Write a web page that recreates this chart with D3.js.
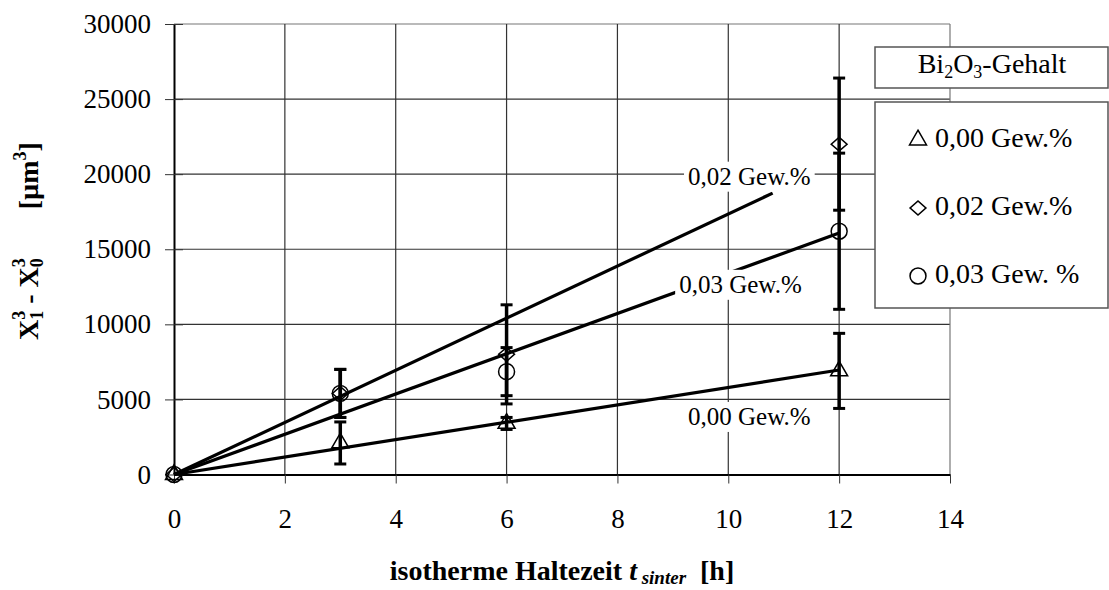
<!DOCTYPE html>
<html lang="de">
<head>
  <meta charset="UTF-8">
  <title>Kornwachstum</title>
  <script src="https://d3js.org/d3.v7.min.js"></script>
  <style>
    body {
      margin: 0;
      background: white;
    }
    svg {
      font-family: "Liberation Serif", "Times New Roman", serif;
    }
    text {
      white-space: pre;
    }
  </style>
</head>
<body>
  <div id="chart"></div>

  <script>
    // --- data ---
    const tHours = [0, 3, 6, 12];
    const seriesNames = ["0,00 Gew.%", "0,02 Gew.%", "0,03 Gew. %"];
    const seriesSymbols = ["triangle", "diamond", "circle"];
    const val000 = [0, 2100, 3400, 6900];
    const err000 = [0, 1400, 400, 2500];
    const val002 = [0, 5400, 8000, 22000];
    const err002 = [0, 1600, 3300, 4400];
    const val003 = [0, 5400, 6850, 16200];
    const err003 = [0, 1600, 1600, 5200];

    // straight fit lines through the origin (slope in µm³/h)
    const fitNames = ["0,00 Gew.%", "0,02 Gew.%", "0,03 Gew.%"];
    const fitSlopes = [580, 1735, 1340];
    const fitEnds = [12, 10.8, 12];
    // label anchor in data units (centre time, baseline value)
    const fitLabelT = [10.38, 10.38, 10.22];
    const fitLabelV = [3300, 19300, 12100];

    const xTicks = [0, 2, 4, 6, 8, 10, 12, 14];
    const yTicks = [0, 5000, 10000, 15000, 20000, 25000, 30000];

    const width = 1109, height = 590;
    const margin = {left: 174, right: 159, top: 24, bottom: 115.5};
    const serif = "Liberation Serif, Times New Roman, serif";

    const svg = d3.select("#chart").append("svg")
        .attr("width", width)
        .attr("height", height)
        .attr("font-family", serif);

    const x = d3.scaleLinear().domain([0, 14]).range([margin.left, width - margin.right]);
    const y = d3.scaleLinear().domain([0, 30000]).range([height - margin.bottom, margin.top]);

    // grid
    const grid = svg.append("g").attr("stroke-width", 1.2);
    grid.selectAll("line.h").data(yTicks.slice(1)).join("line")
        .attr("x1", x(0)).attr("x2", x(14))
        .attr("y1", d => y(d)).attr("y2", d => y(d))
        .attr("stroke", d => d === 30000 ? "#777" : "#333");
    grid.selectAll("line.v").data(xTicks.slice(1)).join("line")
        .attr("y1", y(0)).attr("y2", y(30000))
        .attr("x1", d => x(d)).attr("x2", d => x(d))
        .attr("stroke", d => d === 14 ? "#777" : "#333");

    // axes
    const xAxis = svg.append("g")
        .attr("transform", `translate(0,${y(0)})`)
        .call(d3.axisBottom(x).tickValues(xTicks).tickSize(9).tickPadding(25).tickSizeOuter(0));
    const yAxis = svg.append("g")
        .attr("transform", `translate(${x(0)},0)`)
        .call(d3.axisLeft(y).tickValues(yTicks).tickSize(9).tickPadding(14).tickSizeOuter(0)
          .tickFormat(d3.format("d")));
    [xAxis, yAxis].forEach(g => {
      g.select(".domain").attr("stroke", "#000").attr("stroke-width", 2);
      g.selectAll(".tick line").attr("stroke", "#333");
      g.selectAll(".tick text")
        .attr("font-family", serif)
        .attr("font-size", 27).attr("fill", "#000");
    });
    yAxis.selectAll(".tick line").clone().attr("x2", 9);

    // fit lines
    svg.append("g").selectAll("line").data(fitSlopes).join("line")
        .attr("x1", x(0)).attr("y1", y(0))
        .attr("x2", (d, i) => x(fitEnds[i]))
        .attr("y2", (d, i) => y(d * fitEnds[i]))
        .attr("stroke", "#000").attr("stroke-width", 3.2);

    // fit labels with white boxes
    const labG = svg.append("g");
    fitNames.forEach((name, i) => {
      const g = labG.append("g");
      const t = g.append("text")
          .attr("x", x(fitLabelT[i])).attr("y", y(fitLabelV[i]))
          .attr("text-anchor", "middle")
          .attr("font-size", 25)
          .text(name);
      const bb = t.node().getBBox();
      g.insert("rect", "text")
          .attr("x", bb.x - 4).attr("y", bb.y - 1)
          .attr("width", bb.width + 8).attr("height", bb.height + 3)
          .attr("fill", "white");
    });

    // error bars and markers
    const allVals = [val000, val002, val003];
    const allErrs = [err000, err002, err003];
    const symType = {triangle: d3.symbolTriangle, diamond: d3.symbolSquare, circle: d3.symbolCircle};
    const symSize = {triangle: 125, diamond: 110, circle: 200};
    const symExtra = {triangle: "", diamond: " scale(1.07,0.93) rotate(45)", circle: ""};

    const errG = svg.append("g").attr("stroke", "#000").attr("stroke-width", 3.5);
    allVals.forEach((vals, s) => {
      tHours.forEach((t, j) => {
        const e = allErrs[s][j];
        if (!e) return;
        errG.append("line")
            .attr("x1", x(t)).attr("x2", x(t))
            .attr("y1", y(vals[j] - e)).attr("y2", y(vals[j] + e));
        [vals[j] - e, vals[j] + e].forEach(v => {
          errG.append("line")
              .attr("x1", x(t) - 6).attr("x2", x(t) + 6)
              .attr("y1", y(v)).attr("y2", y(v))
              .attr("stroke-width", 3);
        });
      });
    });

    const markG = svg.append("g");
    allVals.forEach((vals, s) => {
      const sym = seriesSymbols[s];
      markG.append("g").selectAll("path").data(vals).join("path")
          .attr("transform", (d, j) => `translate(${x(tHours[j])},${y(d)})` + symExtra[sym])
          .attr("d", d3.symbol(symType[sym], symSize[sym]))
          .attr("fill", "none")
          .attr("stroke", "#000")
          .attr("stroke-width", 1.5);
    });

    // legend
    const leg = svg.append("g");
    leg.append("rect")
        .attr("x", 875).attr("y", 47).attr("width", 233).attr("height", 41)
        .attr("fill", "white").attr("stroke", "#555").attr("stroke-width", 1.5);
    const title = leg.append("text")
        .attr("x", 992).attr("y", 73)
        .attr("text-anchor", "middle")
        .attr("font-size", 28);
    title.append("tspan").text("Bi");
    title.append("tspan").attr("font-size", 18).attr("dy", 5).text("2");
    title.append("tspan").attr("dy", -5).text("O");
    title.append("tspan").attr("font-size", 18).attr("dy", 5).text("3");
    title.append("tspan").attr("dy", -5).text("-Gehalt");

    leg.append("rect")
        .attr("x", 875).attr("y", 102).attr("width", 233).attr("height", 206)
        .attr("fill", "white").attr("stroke", "#555").attr("stroke-width", 1.5);
    seriesNames.forEach((name, i) => {
      const sym = seriesSymbols[i];
      const cy = 140 + i * 68;
      leg.append("path")
          .attr("transform", `translate(918,${cy})` + symExtra[sym])
          .attr("d", d3.symbol(symType[sym], symSize[sym]))
          .attr("fill", "none").attr("stroke", "#000").attr("stroke-width", 1.5);
      leg.append("text")
          .attr("x", 935).attr("y", 147 + i * 68)
          .attr("font-size", 28)
          .text(name);
    });

    // axis titles
    const xt = svg.append("text")
        .attr("x", (x(0) + x(14)) / 2).attr("y", 580)
        .attr("text-anchor", "middle")
        .attr("font-size", 28).attr("font-weight", "bold");
    xt.append("tspan").text("isotherme Haltezeit ");
    xt.append("tspan").attr("font-style", "italic").text("t");
    xt.append("tspan").attr("font-style", "italic").attr("font-size", 19).attr("dy", 4).text(" sinter");
    xt.append("tspan").attr("dy", -4).text("  [h]");

    const yt = svg.append("text")
        .attr("transform", "translate(38,340) rotate(-90)")
        .attr("font-size", 28).attr("font-weight", "bold");
    yt.append("tspan").text("X");
    yt.append("tspan").attr("font-size", 18).attr("dy", 5).text("1");
    yt.append("tspan").attr("font-size", 18).attr("dx", -9).attr("dy", -18).text("3");
    yt.append("tspan").attr("dy", 13).text(" - X");
    yt.append("tspan").attr("font-size", 18).attr("dy", 5).text("0");
    yt.append("tspan").attr("font-size", 18).attr("dx", -9).attr("dy", -18).text("3");
    yt.append("tspan").attr("dy", 13).text("       [µm");
    yt.append("tspan").attr("font-size", 18).attr("dy", -12).text("3");
    yt.append("tspan").attr("dy", 12).text("]");
  </script>
</body>
</html>
